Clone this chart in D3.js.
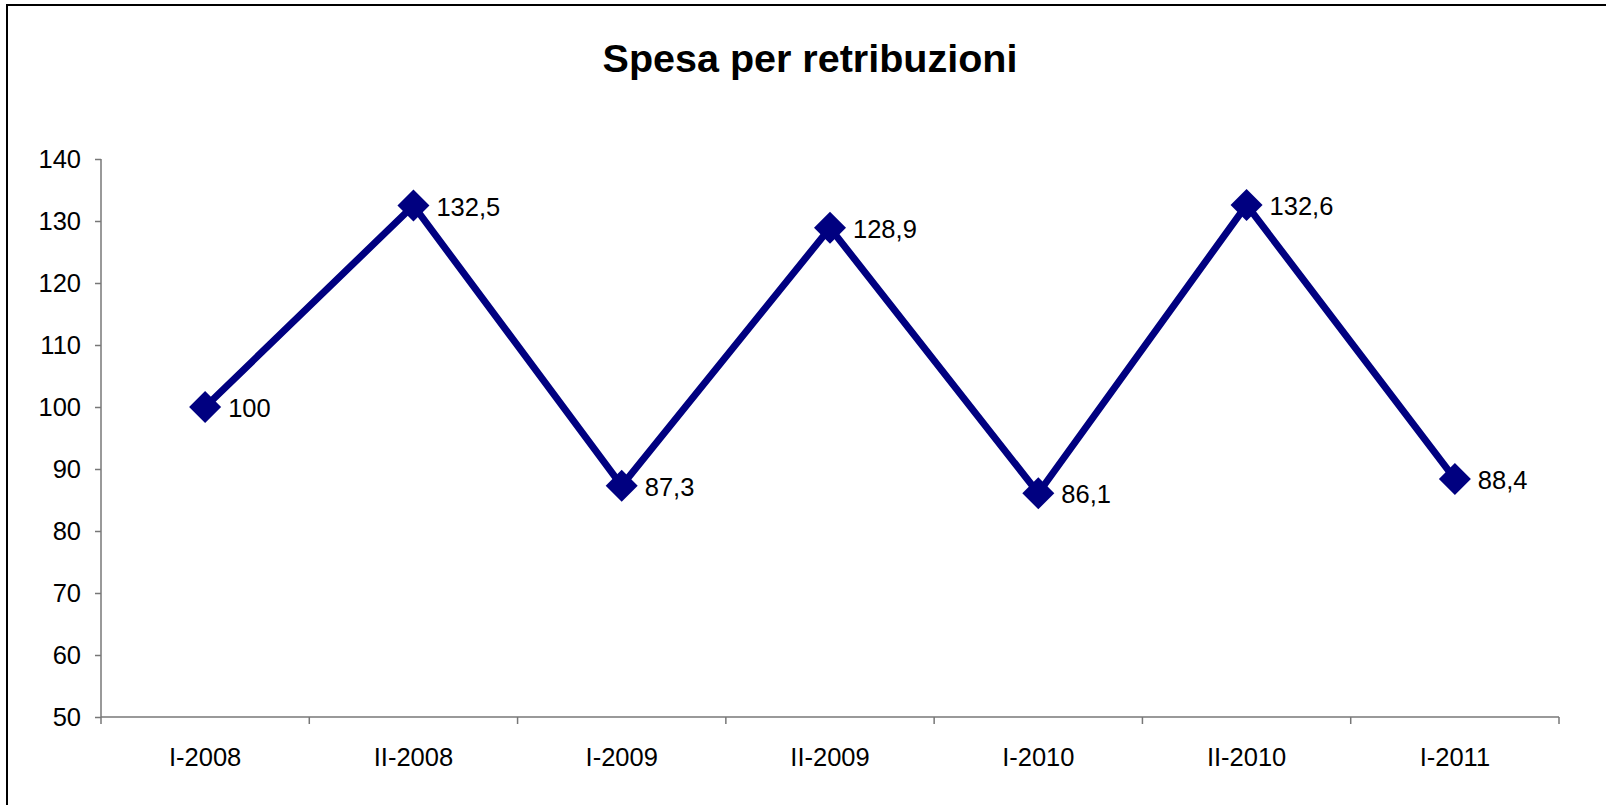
<!DOCTYPE html>
<html><head><meta charset="utf-8">
<script src="https://cdn.jsdelivr.net/npm/d3@7"></script>
<style>html,body{margin:0;padding:0;background:#fff;}svg{display:block;}</style>
</head><body>
<script>
const title = "Spesa per retribuzioni";
const categories = ["I-2008","II-2008","I-2009","II-2009","I-2010","II-2010","I-2011"];
const values = [100, 132.5, 87.3, 128.9, 86.1, 132.6, 88.4];
const yTicks = [50,60,70,80,90,100,110,120,130,140];

const W = 1606, H = 805;
const svg = d3.select("body").append("svg").attr("width", W).attr("height", H);
const font = "Arial, 'Liberation Sans', sans-serif";

svg.append("rect").attr("x",7).attr("y",5).attr("width",W+20).attr("height",H+20)
  .attr("fill","#fff").attr("stroke","#000").attr("stroke-width",2);

const plotL = 101, plotR = 1559, plotT = 159, plotB = 717;
const x = d3.scaleBand().domain(categories).range([plotL, plotR]).padding(0);
const y = d3.scaleLinear().domain([50,140]).range([plotB, plotT]);

svg.append("text").attr("x", 810).attr("y", 72).attr("text-anchor","middle")
  .attr("font-family", font).attr("font-weight","bold").attr("font-size", 39.5)
  .text(title);

const yAxis = svg.append("g").attr("transform", `translate(${plotL},0)`)
  .call(d3.axisLeft(y).tickValues(yTicks).tickSize(6).tickPadding(14).tickFormat(d3.format("d")));
yAxis.selectAll("text").attr("font-family", font).attr("font-size", 25.5).attr("fill","#000");
yAxis.selectAll("line,path").attr("stroke","#777").attr("stroke-width",1.5);
yAxis.select("path").attr("d", `M0,${plotB}V${plotT}`);

const xAxis = svg.append("g").attr("transform", `translate(0,${plotB})`)
  .call(d3.axisBottom(x).tickSize(0).tickPadding(0));
xAxis.select("path").attr("d", `M${plotL},0H${plotR}`).attr("stroke","#777").attr("stroke-width",1.5);
xAxis.selectAll(".tick line").remove();
xAxis.selectAll("text").attr("font-family", font).attr("font-size", 25.5).attr("fill","#000")
  .attr("y", 49).attr("dy", 0);
const bounds = [...categories.map(c => x(c)), plotR];
svg.append("g").selectAll("line").data(bounds).join("line")
  .attr("x1", d => d).attr("x2", d => d).attr("y1", plotB).attr("y2", plotB+7)
  .attr("stroke","#777").attr("stroke-width",1.5);

const cx = (d,i) => x(categories[i]) + x.bandwidth()/2;
const line = d3.line().x((d,i) => cx(d,i)).y(d => y(d));
svg.append("path").datum(values).attr("d", line).attr("fill","none")
  .attr("stroke","#000080").attr("stroke-width",7).attr("stroke-linejoin","miter");

const s = 16;
svg.append("g").selectAll("path").data(values).join("path")
  .attr("d", (d,i) => { const px = cx(d,i), py = y(d); return `M${px},${py-s}L${px+s},${py}L${px},${py+s}L${px-s},${py}Z`; })
  .attr("fill","#000080");

const fmt = v => String(v).replace(".", ",");
svg.append("g").selectAll("text").data(values).join("text")
  .attr("x", (d,i) => cx(d,i) + 23).attr("y", d => y(d) + 10)
  .attr("font-family", font).attr("font-size", 25.5).attr("fill","#000")
  .text(fmt);
</script>
</body></html>
